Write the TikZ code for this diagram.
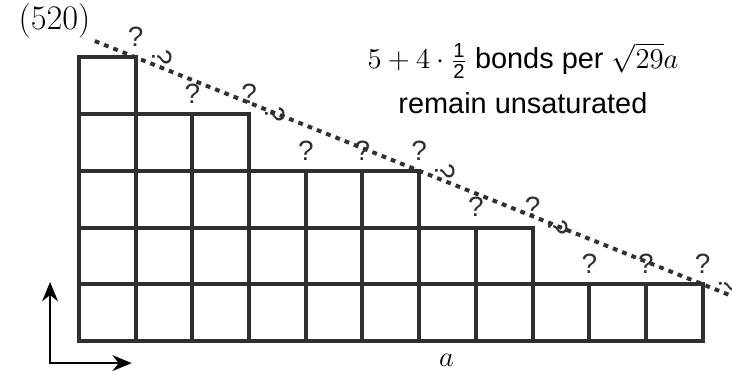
\documentclass[tikz,border=0pt]{standalone}
\usepackage{amsmath}
\usepackage{fontspec}
\setmainfont{Liberation Sans}
\usetikzlibrary{arrows.meta}
\definecolor{ink}{HTML}{303030}

\begin{document}
\begin{tikzpicture}[
  font=\fontsize{14.5}{17}\selectfont,
  cell/.style={draw=ink,line width=2pt},
  bondline/.style={draw=ink,line width=2pt,dash pattern=on 2.4pt off 2.6pt},
  qm/.style={inner sep=0pt,font=\fontsize{14}{16}\selectfont,text=ink},
  lbl/.style={inner sep=0pt,align=center},
  ax/.style={{Stealth[length=3.4mm,width=2.8mm]}-{Stealth[length=3.4mm,width=2.8mm]},line width=1.1pt,draw=black},
]
\useasboundingbox (-1.393,-0.529) rectangle (11.517,6.014);
\coordinate (d0) at (0.28,5.29);
\coordinate (d1) at (11.5,0.80);
\draw[bondline] (d0) -- (d1);
\foreach \col/\h in {1/5,2/4,3/4,4/3,5/3,6/3,7/2,8/2,9/1,10/1,11/1}{
  \foreach \r in {1,...,\h}
    \draw[cell] (\col-1,\r-1) rectangle (\col,\r);
  \node[qm,anchor=base] (q\col) at (\col,\h+0.19) {?};
}
\foreach \c/\h [count=\i] in {1/5,3/4,6/3,8/2,11/1}
  \node[qm,rotate=-90] (s\i) at (\c+0.46,\h) {?};
\node[lbl,anchor=base] (bonds) at (7.83,4.80) {$5+4\cdot\frac{\text{1}}{\text{2}}$ bonds per $\sqrt{29}a$};
\node[lbl,anchor=base] (unsat) at (7.83,4.02) {remain unsaturated};
\node[lbl,anchor=base,font=\fontsize{16}{19}\selectfont] (plane) at (-0.43,5.49) {$(520)$};
\node[lbl,anchor=base] (len) at (6.48,-0.45) {$a$};
\coordinate (o) at (-0.51,-0.39);
\coordinate (oy) at (-0.51,1.04);
\coordinate (ox) at (0.93,-0.39);
\draw[ax] (oy) -- (o) -- (ox);
\end{tikzpicture}
\end{document}
